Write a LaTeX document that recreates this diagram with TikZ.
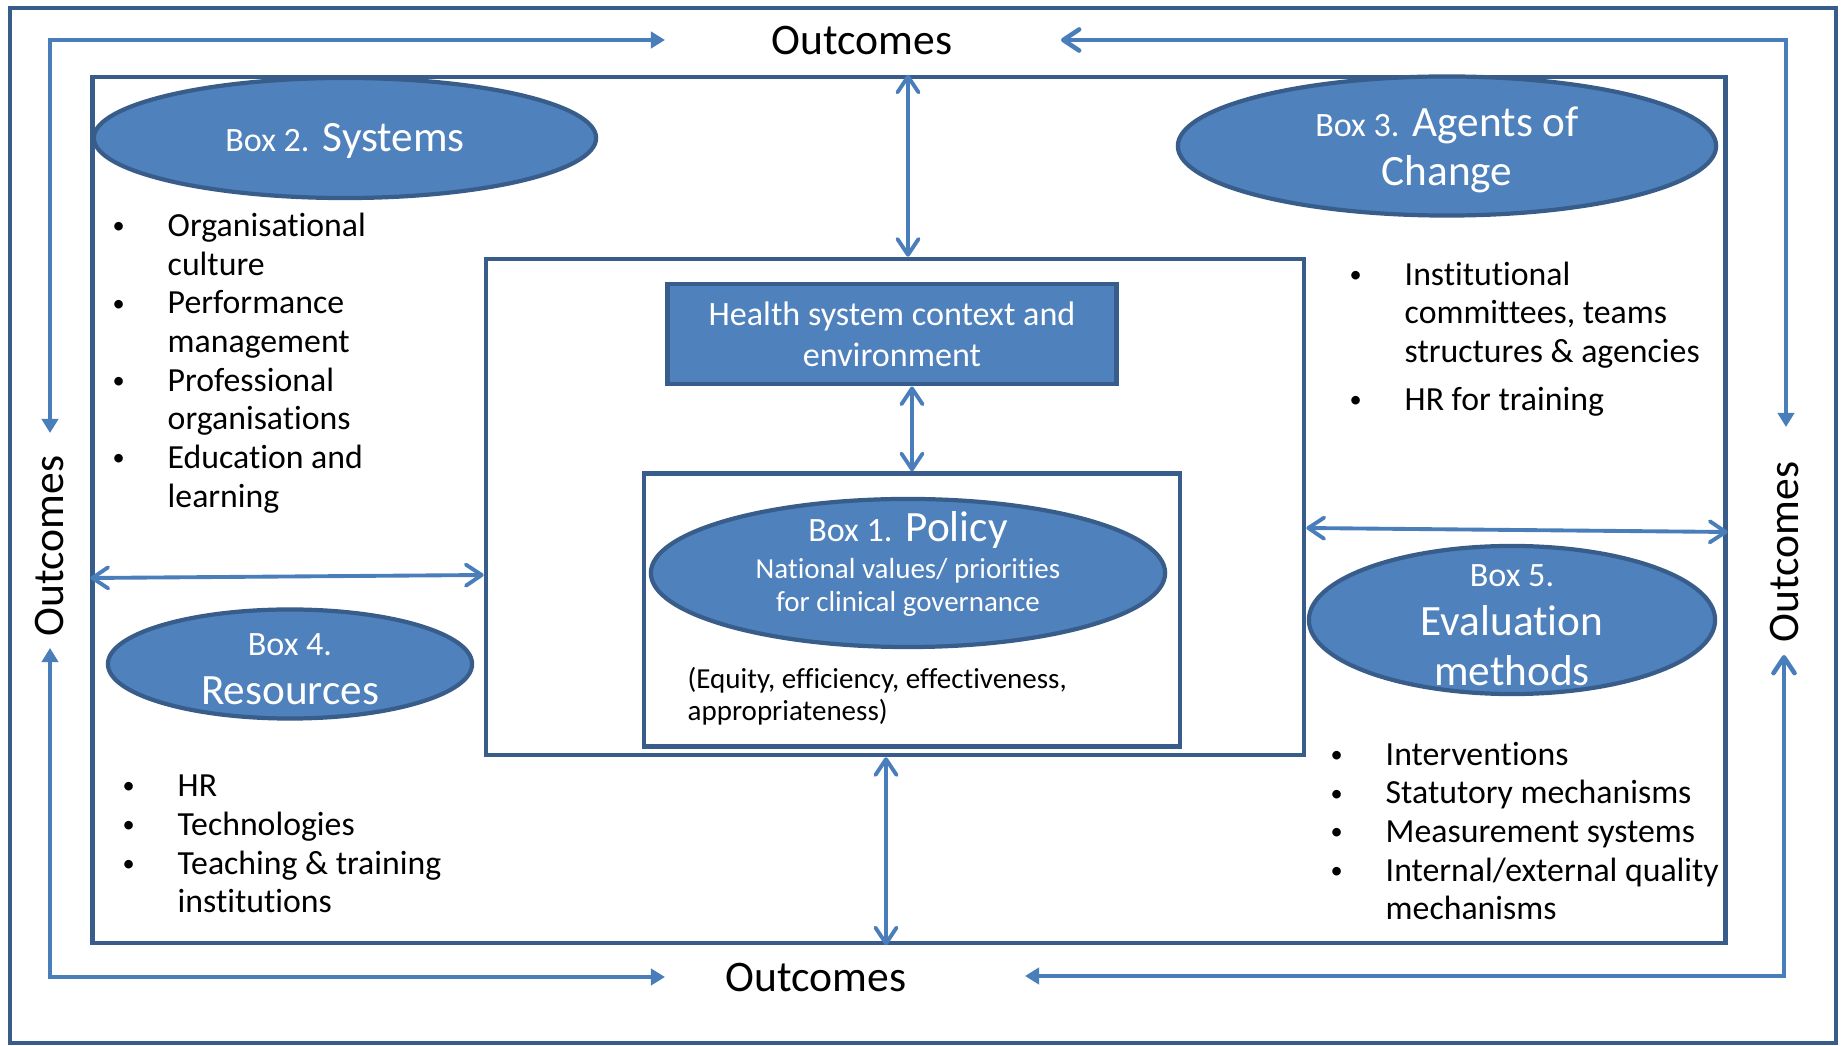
\documentclass[tikz,border=0pt]{standalone}
\usepackage{fontspec}
\setmainfont[Ligatures=NoCommon]{Carlito}
\usetikzlibrary{shapes.geometric,arrows.meta}

\definecolor{ovalfill}{RGB}{79,129,189}
\definecolor{edgeblue}{RGB}{56,93,138}
\definecolor{arrowblue}{RGB}{74,126,187}

\newcommand{\smallfs}{\fontsize{9.7}{11.5}\selectfont}
\newcommand{\bigfs}{\fontsize{12.3}{14}\selectfont}
\newcommand{\subfs}{\fontsize{8.25}{9.4}\selectfont}
\newcommand{\bl}{\makebox[0.58cm][l]{\hspace{0.03cm}\raisebox{0.08em}{\scalebox{0.72}{\textbullet}}}}
\newcommand{\ind}{\hspace*{0.58cm}}

\tikzset{
  loophead/.tip={Triangle[length=4pt,width=4.6pt]},
  barbhead/.tip={Straight Barb[length=4.5pt,width=6pt,round]},
  frame/.style={draw=edgeblue, line width=1.2pt},
  oval/.style={ellipse, draw=edgeblue, line width=1.2pt, fill=ovalfill},
  ovaltext/.style={text=white, align=center, font=\bigfs, inner sep=0pt},
  ctxbox/.style={draw=edgeblue, line width=1.4pt, fill=ovalfill, text=white,
    align=center, font=\fontsize{9.7}{11.6}\selectfont},
  link/.style={draw=arrowblue, line width=1.1pt, barbhead-barbhead},
  loopline/.style={draw=arrowblue, line width=1.3pt},
  outlbl/.style={font=\fontsize{12.4}{14}\selectfont, inner sep=0pt},
  items/.style={anchor=west, align=left, inner sep=0pt,
    font=\fontsize{9.6}{11}\selectfont},
}

\begin{document}
\begin{tikzpicture}[x=0.01cm, y=-0.01cm]
\useasboundingbox (0,0) rectangle (1841,1046);

% outer frame
\draw[frame] (10,8) rectangle (1836,1043);

% frames
\node[frame, minimum width=16.32cm, minimum height=8.66cm] (inner) at (909,510) {};
\node[frame, minimum width=8.18cm, minimum height=4.96cm] (mid) at (895,507) {};
\node[frame, minimum width=5.36cm, minimum height=2.73cm] (pol) at (912,610) {};
\node[ctxbox, minimum width=4.48cm, minimum height=1cm] (ctx) at (892,334)
  {Health system context and\\environment};

% ovals
\node[oval, minimum width=5.02cm, minimum height=1.2cm] (box2) at (345,138) {};
\node[ovaltext] (box2-t) at (345,141) {{\smallfs Box 2.} Systems};
\node[oval, minimum width=5.38cm, minimum height=1.39cm] (box3) at (1447,146) {};
\node[ovaltext] (box3-t) at (1447,150) {{\smallfs Box 3.} Agents of\\Change};
\node[oval, minimum width=5.14cm, minimum height=1.48cm] (box1) at (908,573) {};
\node[ovaltext] (box1-title) at (908,530) {{\smallfs Box 1.} Policy};
\node[ovaltext, font=\subfs] (box1-sub) at (908,587)
  {National values/ priorities\\for clinical governance};
\node[oval, minimum width=3.64cm, minimum height=1.09cm] (box4) at (290,664) {};
\node[ovaltext] (box4-t) at (290,669) {{\smallfs Box 4.}\\Resources};
\node[oval, minimum width=4.06cm, minimum height=1.48cm] (box5) at (1512,620) {};
\node[ovaltext] (box5-t) at (1512,625) {{\smallfs Box 5.}\\Evaluation\\methods};

% lists
\node[items] (sys) at (109,363)
  {\bl Organisational\\\ind culture\\\bl Performance\\\ind management\\
   \bl Professional\\\ind organisations\\\bl Education and\\\ind learning};
\node[items] (agt) at (1346,339)
  {\bl Institutional\\\ind committees, teams\\\ind structures \& agencies\\[0.09cm]
   \bl HR for training};
\node[items] (res) at (119,844)
  {\bl HR\\\bl Technologies\\\bl Teaching \& training\\\ind institutions};
\node[items] (eval) at (1327,831)
  {\bl Interventions\\\bl Statutory mechanisms\\\bl Measurement systems\\
   \bl Internal/external quality\\\ind mechanisms};
\node[items, font=\fontsize{8.25}{9.2}\selectfont] (equity) at (687,696)
  {(Equity, efficiency, effectiveness,\\appropriateness)};

% outcomes
\node[outlbl] (out-top) at (862,41) {Outcomes};
\node[outlbl] (out-bot) at (816,978) {Outcomes};
\node[outlbl, rotate=90] (out-left) at (50,546) {Outcomes};
\node[outlbl, rotate=90] (out-right) at (1785,552) {Outcomes};

% feedback loops
\coordinate (tl-a) at (50,433);
\coordinate (tl-b) at (665,40);
\coordinate (tr-a) at (1786,427);
\coordinate (tr-b) at (1061,40);
\coordinate (bl-a) at (50,648);
\coordinate (bl-b) at (665,977);
\coordinate (br-a) at (1784,655);
\coordinate (br-b) at (1025,976);
\draw[loopline, loophead-loophead] (tl-a) |- (tl-b);
\draw[loopline, loophead-barbhead] (tr-a) |- (tr-b);
\draw[loopline, loophead-loophead] (bl-a) |- (bl-b);
\draw[loopline, barbhead-loophead] (br-a) |- (br-b);

% links
\draw[link] (908,0 |- inner.north) -- (908,0 |- mid.north);
\draw[link] (912,0 |- ctx.south) -- (912,0 |- pol.north);
\draw[link] (886,0 |- mid.south) -- (886,0 |- inner.south);
\draw[link] (inner.west |- 0,578) -- (mid.west |- 0,575);
\draw[link] (mid.east |- 0,528) -- (inner.east |- 0,532);
\end{tikzpicture}
\end{document}
